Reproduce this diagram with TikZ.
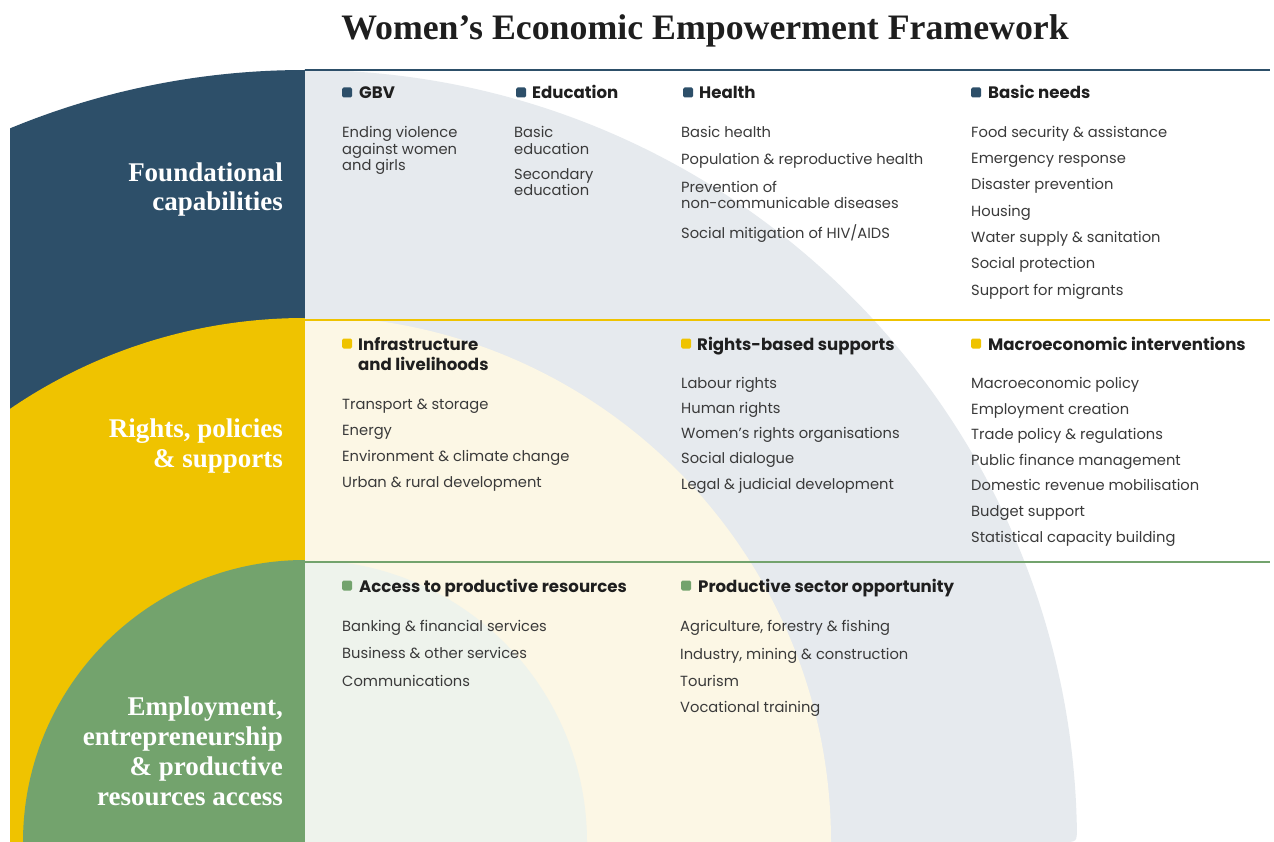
\documentclass[tikz,border=0pt]{standalone}
\usepackage{fontspec}
\newfontfamily\poppfont{Poppins}
\newfontfamily\serifbold{Liberation Serif}
\definecolor{navy}{HTML}{2D4F69}
\definecolor{ylw}{HTML}{EFC300}
\definecolor{grn}{HTML}{73A36D}
\definecolor{greyc}{HTML}{E6EAEE}
\definecolor{cream}{HTML}{FCF7E5}
\definecolor{lgrn}{HTML}{EEF3EC}
\definecolor{txtc}{HTML}{3A3A3A}
\definecolor{hdc}{HTML}{1F1F1F}
\definecolor{titc}{HTML}{1E1E1E}
\newcommand\entry[4]{\node[itm] (#1) at (#2,#3+1) {#4};}
\newcommand\head[6]{\node[sqm=#6] (#1s) at (#2,#3+0.5) {};\node[hd] (#1) at (#4,#3+7) {#5};}
\begin{document}
\begin{tikzpicture}[x=1pt,y=-1pt,
  itm/.style={anchor=base west, inner sep=0pt, font=\poppfont\fontsize{14.7}{16.5}\selectfont, text=txtc},
  hd/.style={anchor=base west, inner sep=0pt, font=\poppfont\bfseries\fontsize{16.6}{19}\selectfont, text=hdc},
  sqm/.style={fill=#1, minimum size=10pt, inner sep=0pt, rounded corners=1.5pt},
  lbl/.style={anchor=base east, inner sep=0pt, text=white, font=\serifbold\bfseries\fontsize{27}{30}\selectfont},
  band/.style={line width=1.2pt}]
\useasboundingbox (0,0) rectangle (1274,842);
\fill[white] (0,0) rectangle (1274,842);
% left coloured quarter discs
\begin{scope}
  \clip (10,0) rectangle (305,842);
  \fill[navy] (305,842) circle[radius=772];
  \fill[ylw] (305,842) circle[radius=524];
  \fill[grn] (305,842) circle[radius=282];
\end{scope}
% right pale quarter discs
\begin{scope}
  \fill[greyc] (305,70) arc[start angle=-90, end angle=-1.1, radius=772]
     .. controls (1077,842) .. (1063,842) -- (305,842) -- cycle;
  \begin{scope}
    \clip (305,320) rectangle (1274,842);
    \fill[cream] (305,842) circle[radius=526];
  \end{scope}
  \begin{scope}
    \clip (305,562) rectangle (1274,842);
    \fill[lgrn] (305,842) circle[radius=282];
  \end{scope}
\end{scope}
% band lines
\coordinate (l1a) at (305,70);  \coordinate (l1b) at (1270,70);
\coordinate (l2a) at (305,320); \coordinate (l2b) at (1270,320);
\coordinate (l3a) at (305,562); \coordinate (l3b) at (1270,562);
\draw[band, navy] (l1a) -- (l1b);
\draw[band, ylw] (l2a) -- (l2b);
\draw[band, grn] (l3a) -- (l3b);
% title
\node[anchor=base, inner sep=0pt, text=titc, font=\serifbold\bfseries\fontsize{35.8}{40}\selectfont] (title) at (705,40) {Women’s Economic Empowerment Framework};
% left labels
\node[lbl] (f1) at (283,181.5) {Foundational};
\node[lbl] (f2) at (283,211) {capabilities};
\node[lbl] (r1) at (283,437.5) {Rights, policies};
\node[lbl] (r2) at (283,467.5) {\& supports};
\node[lbl] (e1) at (283,715.5) {Employment,};
\node[lbl] (e2) at (283,745.5) {entrepreneurship};
\node[lbl] (e3) at (283,775.5) {\& productive};
\node[lbl] (e4) at (283,805.5) {resources access};
% ---- Foundational capabilities
\head{gbv}{347}{92}{359}{GBV}{navy}
\entry{gbv1}{342}{137}{Ending violence}
\entry{gbv2}{342}{154}{against women}
\entry{gbv3}{342}{170}{and girls}
\head{edu}{521}{92}{532}{Education}{navy}
\entry{edu1}{514}{137}{Basic}
\entry{edu2}{514}{154}{education}
\entry{edu3}{514}{179}{Secondary}
\entry{edu4}{514}{195}{education}
\head{hea}{688}{92}{699}{Health}{navy}
\entry{hea1}{681}{137}{Basic health}
\entry{hea2}{681}{164}{Population \& reproductive health}
\entry{hea3}{681}{192}{Prevention of}
\entry{hea4}{681}{208}{non-communicable diseases}
\entry{hea5}{681}{238}{Social mitigation of HIV/AIDS}
\head{bas}{976}{92}{988}{Basic needs}{navy}
\entry{bas1}{971}{137}{Food security \& assistance}
\entry{bas2}{971}{163}{Emergency response}
\entry{bas3}{971}{189}{Disaster prevention}
\entry{bas4}{971}{216}{Housing}
\entry{bas5}{971}{242}{Water supply \& sanitation}
\entry{bas6}{971}{268}{Social protection}
\entry{bas7}{971}{294}{Support for migrants}
% ---- Rights, policies & supports
\head{inf}{347}{343}{358}{Infrastructure}{ylw}
\node[hd] (inf0) at (358,370) {and livelihoods};
\entry{inf1}{342}{408}{Transport \& storage}
\entry{inf2}{342}{434}{Energy}
\entry{inf3}{342}{460}{Environment \& climate change}
\entry{inf4}{342}{486}{Urban \& rural development}
\head{rbs}{686}{343}{697}{Rights-based supports}{ylw}
\entry{rbs1}{681}{387}{Labour rights}
\entry{rbs2}{681}{412}{Human rights}
\entry{rbs3}{681}{437}{Women’s rights organisations}
\entry{rbs4}{681}{462}{Social dialogue}
\entry{rbs5}{681}{488}{Legal \& judicial development}
\head{mac}{976}{343}{988}{Macroeconomic interventions}{ylw}
\entry{mac1}{971}{387}{Macroeconomic policy}
\entry{mac2}{971}{413}{Employment creation}
\entry{mac3}{971}{438}{Trade policy \& regulations}
\entry{mac4}{971}{464}{Public finance management}
\entry{mac5}{971}{489}{Domestic revenue mobilisation}
\entry{mac6}{971}{515}{Budget support}
\entry{mac7}{971}{541}{Statistical capacity building}
% ---- Employment
\head{acc}{347}{585}{359}{Access to productive resources}{grn}
\entry{acc1}{342}{630}{Banking \& financial services}
\entry{acc2}{342}{657}{Business \& other services}
\entry{acc3}{342}{685}{Communications}
\head{pro}{686}{585}{698}{Productive sector opportunity}{grn}
\entry{pro1}{680}{630}{Agriculture, forestry \& fishing}
\entry{pro2}{680}{658}{Industry, mining \& construction}
\entry{pro3}{680}{685}{Tourism}
\entry{pro4}{680}{711}{Vocational training}
\end{tikzpicture}
\end{document}
